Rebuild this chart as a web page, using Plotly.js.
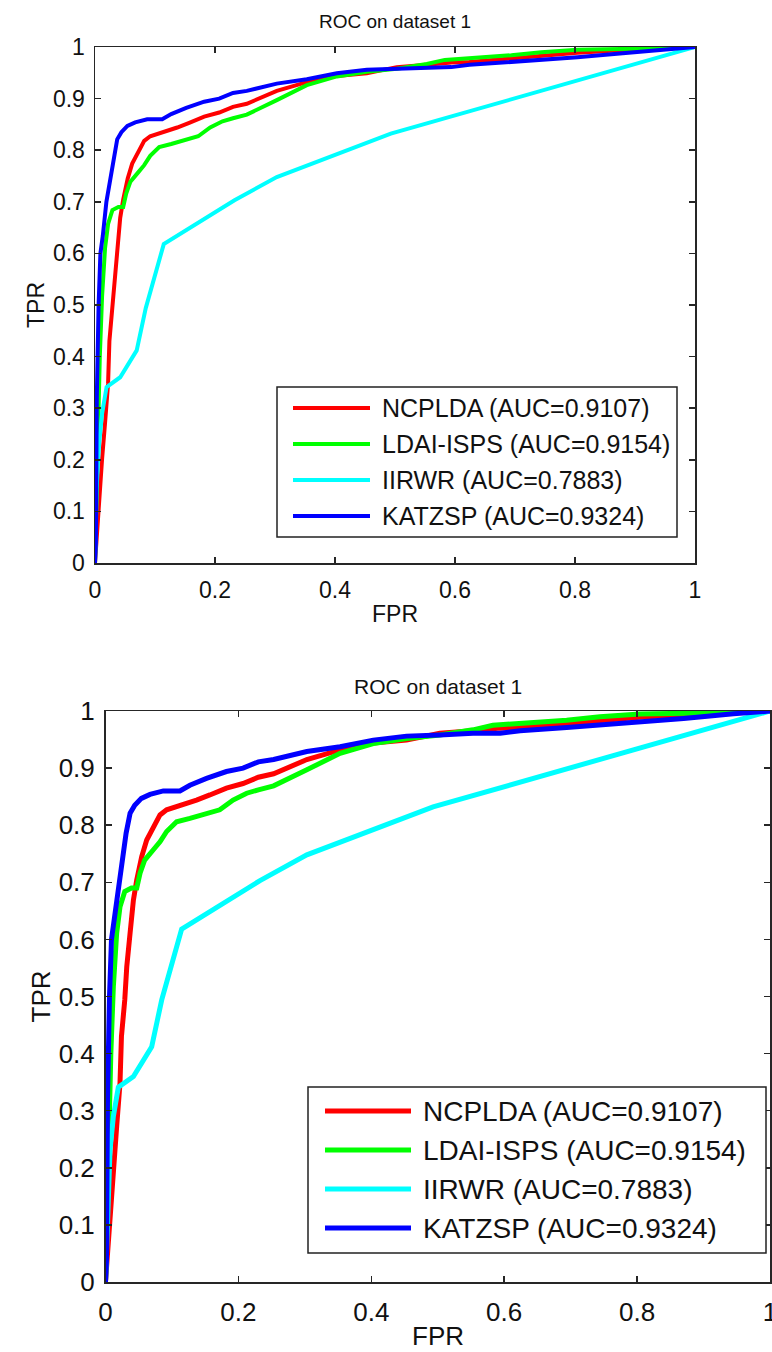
<!DOCTYPE html>
<html>
<head>
<meta charset="utf-8">
<script src="https://cdn.plot.ly/plotly-3.0.1.min.js"></script>
<style>html,body{margin:0;padding:0;background:#fff;}#chart{width:772px;height:1352px;}</style>
</head>
<body>
<div id="chart"></div>
<script>
// ---- data ----
const seriesNames = ['NCPLDA (AUC=0.9107)', 'LDAI-ISPS (AUC=0.9154)', 'IIRWR (AUC=0.7883)', 'KATZSP (AUC=0.9324)'];
const seriesColors = ['#ff0000', '#00ff00', '#00ffff', '#0000ff'];

const fprNCPLDA = [0, 0.003, 0.008, 0.0093, 0.0118, 0.0168, 0.0218, 0.024, 0.029, 0.032, 0.037, 0.042, 0.047, 0.0545, 0.062, 0.072, 0.082, 0.092, 0.112, 0.137, 0.157, 0.182, 0.207, 0.230, 0.253, 0.303, 0.353, 0.403, 0.453, 0.503, 0.553, 0.594, 0.624, 0.694, 0.744, 0.804, 0.895, 0.944, 1];
const tprNCPLDA = [0, 0.05, 0.155, 0.158, 0.202, 0.272, 0.348, 0.43, 0.494, 0.552, 0.611, 0.669, 0.704, 0.745, 0.774, 0.795, 0.818, 0.827, 0.834, 0.844, 0.853, 0.865, 0.873, 0.884, 0.890, 0.915, 0.932, 0.944, 0.949, 0.961, 0.9655, 0.970, 0.971, 0.978, 0.983, 0.989, 0.995, 0.997, 1];

const fprLDAI = [0, 0.002, 0.005, 0.008, 0.0118, 0.0168, 0.0218, 0.029, 0.039, 0.047, 0.052, 0.059, 0.072, 0.082, 0.092, 0.107, 0.127, 0.157, 0.172, 0.192, 0.2125, 0.230, 0.253, 0.303, 0.353, 0.403, 0.453, 0.503, 0.553, 0.583, 0.624, 0.694, 0.744, 0.804, 0.920, 1];
const tprLDAI = [0, 0.1, 0.3, 0.40, 0.517, 0.611, 0.657, 0.684, 0.690, 0.690, 0.716, 0.739, 0.757, 0.771, 0.789, 0.806, 0.812, 0.821, 0.827, 0.844, 0.856, 0.862, 0.869, 0.897, 0.926, 0.943, 0.952, 0.958, 0.967, 0.975, 0.978, 0.984, 0.990, 0.9947, 0.997, 1];

const fprIIRWR = [0, 0.001, 0.0027, 0.0068, 0.0118, 0.0193, 0.042, 0.0695, 0.0846, 0.1146, 0.2325, 0.303, 0.493, 1];
const tprIIRWR = [0, 0.0385, 0.144, 0.231, 0.2895, 0.341, 0.360, 0.412, 0.494, 0.618, 0.703, 0.748, 0.832, 1];

const fprKATZSP = [0, 0.0015, 0.003, 0.0045, 0.006, 0.009, 0.013, 0.019, 0.026, 0.031, 0.037, 0.044, 0.054, 0.067, 0.087, 0.112, 0.127, 0.152, 0.182, 0.207, 0.230, 0.253, 0.303, 0.353, 0.403, 0.453, 0.503, 0.553, 0.594, 0.624, 0.694, 0.744, 0.804, 0.870, 0.945, 1];
const tprKATZSP = [0, 0.04, 0.32, 0.47, 0.5, 0.6, 0.634, 0.7, 0.751, 0.786, 0.821, 0.835, 0.847, 0.854, 0.860, 0.860, 0.870, 0.882, 0.894, 0.900, 0.911, 0.915, 0.929, 0.9375, 0.949, 0.956, 0.958, 0.961, 0.961, 0.9655, 0.971, 0.975, 0.980, 0.987, 0.995, 1];

const xTickVals = [0, 0.2, 0.4, 0.6, 0.8, 1];
const xTickText = ['0', '0.2', '0.4', '0.6', '0.8', '1'];
const yTickVals = [0, 0.1, 0.2, 0.3, 0.4, 0.5, 0.6, 0.7, 0.8, 0.9, 1];
const yTickText = ['0', '0.1', '0.2', '0.3', '0.4', '0.5', '0.6', '0.7', '0.8', '0.9', '1'];
const chartTitle = 'ROC on dataset 1';
const xTitle = 'FPR';
const yTitle = 'TPR';

// ---- figure ----
const W = 772, H = 1352;
const FONT = 'Liberation Sans, Arial, Helvetica, sans-serif';
const fx = px => px / W;
const fy = py => 1 - py / H;

const xs = [fprNCPLDA, fprLDAI, fprIIRWR, fprKATZSP];
const ys = [tprNCPLDA, tprLDAI, tprIIRWR, tprKATZSP];

const panels = [
  {xa: 'x', ya: 'y', left: 95, right: 695, top: 47, bottom: 563, lw: 4, tick: 23, leg: 25, titleSize: 19, titleY: 21, axTitle: 23, xTitleY: 614,
   legBox: [277, 387, 677, 537], legLine: [293, 370], legText: 380, legY: [408, 444, 480, 516]},
  {xa: 'x2', ya: 'y2', left: 105.5, right: 770, top: 711, bottom: 1282, lw: 5, tick: 26, leg: 28, titleSize: 21, titleY: 686, axTitle: 26, xTitleY: 1336,
   legBox: [308, 1087, 766, 1253], legLine: [325, 411], legText: 421, legY: [1111, 1150, 1189, 1228]}
];

const traces = [];
panels.forEach((p, pi) => {
  for (let i = 0; i < 4; i++) {
    traces.push({
      type: 'scatter', mode: 'lines', x: xs[i], y: ys[i], name: seriesNames[i],
      xaxis: p.xa, yaxis: p.ya, showlegend: false, hoverinfo: 'skip',
      line: {color: seriesColors[i], width: p.lw}
    });
  }
});

function axisBase(p, isX) {
  return {
    domain: isX ? [fx(p.left), fx(p.right)] : [fy(p.bottom), fy(p.top)],
    range: [0, 1], autorange: false, fixedrange: true,
    tickmode: 'array', tickvals: isX ? xTickVals : yTickVals, ticktext: isX ? xTickText : yTickText,
    ticks: 'inside', ticklen: 6, tickwidth: 1.5, tickcolor: '#262626',
    showline: true, linecolor: '#262626', linewidth: 1.5, mirror: 'ticks',
    showgrid: false, zeroline: false,
    tickfont: {family: FONT, size: p.tick, color: '#111'},
    ticklabelstandoff: isX ? 6 : 4,
    ticklabeloverflow: 'allow',
    automargin: false
  };
}

const layout = {
  width: W, height: H, margin: {l: 0, r: 0, t: 0, b: 0},
  paper_bgcolor: '#fff', plot_bgcolor: '#fff', showlegend: false,
  title: {text: chartTitle, font: {family: FONT, size: panels[0].titleSize, color: '#111'}, x: fx(395), xanchor: 'center', y: fy(panels[0].titleY), yanchor: 'middle', xref: 'paper', yref: 'paper'},
  shapes: [], annotations: []
};

panels.forEach((p, pi) => {
  const sx = pi === 0 ? '' : '2';
  layout['xaxis' + sx] = Object.assign(axisBase(p, true), {anchor: 'y' + sx});
  layout['yaxis' + sx] = Object.assign(axisBase(p, false), {anchor: 'x' + sx});
  const cx = (p.left + p.right) / 2;
  const cy = (p.top + p.bottom) / 2;
  // axis titles
  layout.annotations.push({text: xTitle, xref: 'paper', yref: 'paper', x: fx(cx), y: fy(p.xTitleY), xanchor: 'center', yanchor: 'middle', showarrow: false, font: {family: FONT, size: p.axTitle, color: '#111'}});
  layout.annotations.push({text: yTitle, xref: 'paper', yref: 'paper', x: fx(pi === 0 ? 36 : 40), y: fy(cy), xanchor: 'center', yanchor: 'middle', textangle: -90, showarrow: false, font: {family: FONT, size: p.axTitle, color: '#111'}});
  if (pi === 1) {
    layout.annotations.push({text: chartTitle, xref: 'paper', yref: 'paper', x: fx(cx), y: fy(p.titleY), xanchor: 'center', yanchor: 'middle', showarrow: false, font: {family: FONT, size: p.titleSize, color: '#111'}});
  }
  // legend box
  const b = p.legBox;
  layout.shapes.push({type: 'rect', xref: 'paper', yref: 'paper', x0: fx(b[0]), x1: fx(b[2]), y0: fy(b[3]), y1: fy(b[1]), line: {color: '#222', width: 1.5}, fillcolor: '#fff', layer: 'above'});
  for (let i = 0; i < 4; i++) {
    layout.shapes.push({type: 'line', xref: 'paper', yref: 'paper', x0: fx(p.legLine[0]), x1: fx(p.legLine[1]), y0: fy(p.legY[i]), y1: fy(p.legY[i]), line: {color: seriesColors[i], width: p.lw}, layer: 'above'});
    layout.annotations.push({text: seriesNames[i], xref: 'paper', yref: 'paper', x: fx(p.legText), y: fy(p.legY[i]), xanchor: 'left', yanchor: 'middle', showarrow: false, font: {family: FONT, size: p.leg, color: '#111'}});
  }
});

Plotly.newPlot('chart', traces, layout, {displayModeBar: false, staticPlot: true});
</script>
</body>
</html>
